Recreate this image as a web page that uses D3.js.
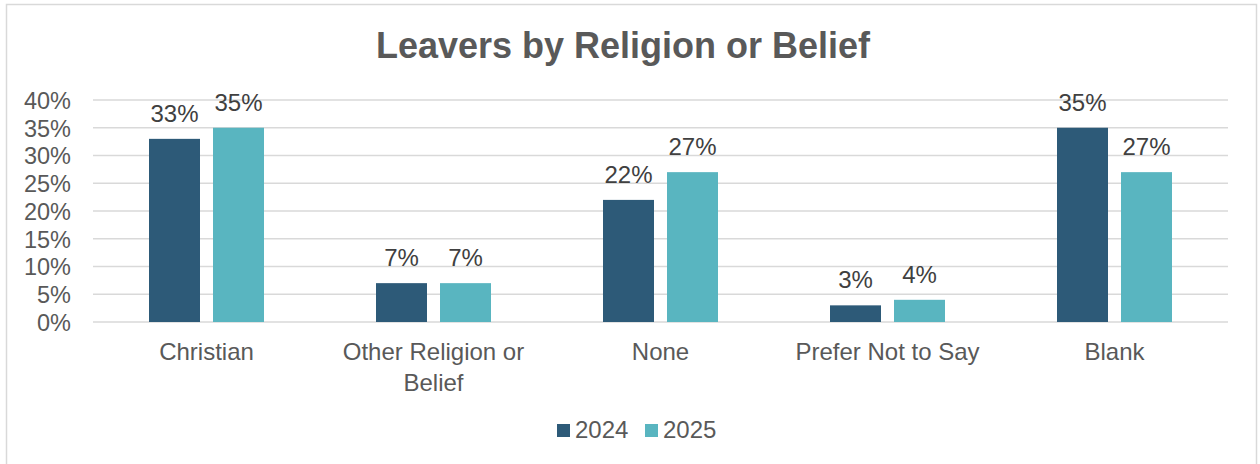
<!DOCTYPE html>
<html>
<head>
<meta charset="utf-8">
<script src="https://cdn.jsdelivr.net/npm/d3@7"></script>
<style>
  html, body { margin: 0; padding: 0; background: #fff; }
  svg { display: block; font-family: "Liberation Sans", Arial, sans-serif; }
</style>
</head>
<body>
<svg id="chart" width="1260" height="464"></svg>
<script>
// Leavers by religion or belief, share of leavers per year
const categories = ["Christian", "Other Religion or Belief", "None", "Prefer Not to Say", "Blank"];
const categoryLines = [["Christian"], ["Other Religion or", "Belief"], ["None"], ["Prefer Not to Say"], ["Blank"]];
const series = ["2024", "2025"];
const values2024 = [0.33, 0.07, 0.22, 0.03, 0.35];
const values2025 = [0.35, 0.07, 0.27, 0.04, 0.27];
const yTicks = [0, 0.05, 0.10, 0.15, 0.20, 0.25, 0.30, 0.35, 0.40];
const colors = ["#2d5a78", "#59b5c0"];

const svg = d3.select("#chart");
const plot = { left: 93, right: 1228, top: 100, bottom: 322 };
const FS = 24;

// chart frame
svg.append("rect")
  .attr("x", 6.5).attr("y", 4.5)
  .attr("width", 1250).attr("height", 470)
  .attr("fill", "#fff")
  .attr("stroke", "#d9d9d9").attr("stroke-width", 1.5);

// title
svg.append("text")
  .attr("x", 623).attr("y", 58)
  .attr("text-anchor", "middle")
  .attr("font-size", 36).attr("font-weight", "bold")
  .attr("fill", "#595959")
  .text("Leavers by Religion or Belief");

const x0 = d3.scaleBand().domain(categories).range([plot.left, plot.right]).paddingInner(0).paddingOuter(0);
const x1 = d3.scaleBand().domain(series).range([0, x0.bandwidth()]).paddingInner(13 / 64).paddingOuter(0.875);
const y = d3.scaleLinear().domain([0, 0.4]).range([plot.bottom, plot.top]);

// gridlines
svg.append("g")
  .selectAll("line")
  .data(yTicks)
  .join("line")
  .attr("x1", plot.left).attr("x2", plot.right)
  .attr("y1", d => y(d)).attr("y2", d => y(d))
  .attr("stroke", "#d9d9d9").attr("stroke-width", 1.5);

// y axis labels
const yAxis = d3.axisLeft(y).tickValues(yTicks).tickFormat(d3.format(".0%")).tickSize(0).tickPadding(22);
const gy = svg.append("g").attr("transform", `translate(${plot.left},0)`).call(yAxis);
gy.select(".domain").remove();
gy.attr("font-family", null).attr("font-size", null);
gy.selectAll("text")
  .attr("font-size", 23.5).attr("fill", "#595959").attr("dy", "0.36em");

// bars
const rows = categories.map((c, i) => ({ cat: c, vals: [values2024[i], values2025[i]] }));
const groups = svg.append("g").selectAll("g")
  .data(rows)
  .join("g")
  .attr("transform", d => `translate(${x0(d.cat)},0)`);

groups.selectAll("rect")
  .data(d => d.vals.map((v, j) => ({ s: series[j], v, j })))
  .join("rect")
  .attr("x", d => x1(d.s))
  .attr("width", x1.bandwidth())
  .attr("y", d => y(d.v))
  .attr("height", d => y(0) - y(d.v))
  .attr("fill", d => colors[d.j]);

// value labels
groups.selectAll("text")
  .data(d => d.vals.map((v, j) => ({ s: series[j], v, j })))
  .join("text")
  .attr("x", d => x1(d.s) + x1.bandwidth() / 2)
  .attr("y", d => y(d.v) - 17)
  .attr("text-anchor", "middle")
  .attr("font-size", FS).attr("fill", "#404040")
  .text(d => d3.format(".0%")(d.v));

// category labels
const cl = svg.append("g").selectAll("text")
  .data(categories)
  .join("text")
  .attr("x", d => x0(d) + x0.bandwidth() / 2)
  .attr("y", 360)
  .attr("text-anchor", "middle")
  .attr("font-size", FS).attr("fill", "#595959");
cl.selectAll("tspan")
  .data((d, i) => categoryLines[i])
  .join("tspan")
  .attr("x", function () { return d3.select(this.parentNode).attr("x"); })
  .attr("dy", (d, i) => i === 0 ? 0 : 31)
  .text(d => d);

// legend
const legendItems = [{ s: "2024", x: 557 }, { s: "2025", x: 645 }];
const lg = svg.append("g").selectAll("g")
  .data(legendItems)
  .join("g")
  .attr("transform", d => `translate(${d.x},0)`);
lg.append("rect")
  .attr("x", 0).attr("y", 424).attr("width", 13).attr("height", 13)
  .attr("fill", (d, i) => colors[i]);
lg.append("text")
  .attr("x", 18).attr("y", 438)
  .attr("font-size", FS).attr("fill", "#595959")
  .text(d => d.s);
</script>
</body>
</html>
